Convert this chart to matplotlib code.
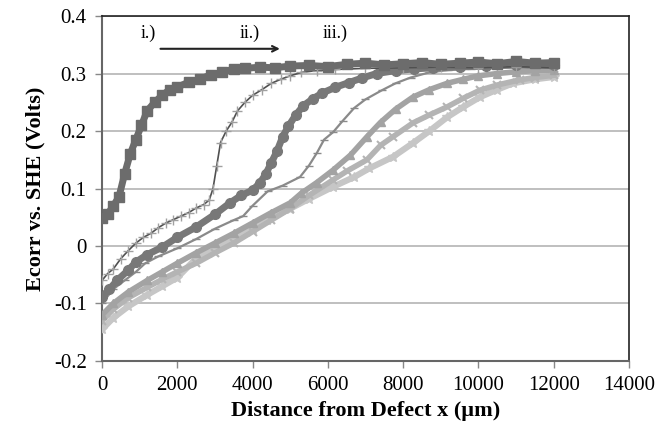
import matplotlib
matplotlib.use("Agg")
import matplotlib.pyplot as plt

# === data (distance in um, Ecorr in V)
s1_x = [0, 150, 300, 450, 600, 750, 900, 1050, 1200, 1400, 1600, 1800, 2000, 2300, 2600, 2900,
        3200, 3500, 3800, 4200, 4600, 5000, 5500, 6000, 6500, 7000, 7500, 8000, 8500, 9000,
        9500, 10000, 10500, 11000, 11500, 12000]
s1_y = [0.048, 0.055, 0.07, 0.085, 0.125, 0.16, 0.185, 0.21, 0.235, 0.25, 0.262, 0.272, 0.276,
        0.285, 0.29, 0.298, 0.302, 0.308, 0.309, 0.311, 0.31, 0.313, 0.314, 0.312, 0.316, 0.318,
        0.315, 0.317, 0.319, 0.316, 0.318, 0.32, 0.317, 0.321, 0.318, 0.319]

s2_x = [0, 150, 300, 500, 700, 900, 1100, 1300, 1500, 1700, 1900, 2100, 2300, 2500, 2700, 2850,
        2950, 3050, 3150, 3300, 3450, 3600, 3800, 4000, 4250, 4500, 4750, 5000, 5300, 5700,
        6200, 7000, 8000, 9000, 10000, 11000, 12000]
s2_y = [-0.06, -0.048, -0.04, -0.022, -0.008, 0.005, 0.015, 0.022, 0.032, 0.04, 0.046, 0.052,
        0.058, 0.066, 0.072, 0.08, 0.1, 0.14, 0.18, 0.2, 0.215, 0.235, 0.25, 0.262, 0.272,
        0.283, 0.29, 0.296, 0.302, 0.305, 0.307, 0.309, 0.31, 0.311, 0.31, 0.312, 0.31]

s3_x = [0, 200, 400, 700, 900, 1200, 1600, 2000, 2500, 3000, 3400, 3700, 4000, 4200, 4350, 4500,
        4650, 4800, 4950, 5150, 5350, 5600, 5850, 6200, 6550, 6900, 7300, 7800, 8300, 8800,
        9500, 10200, 11000, 12000]
s3_y = [-0.088, -0.075, -0.06, -0.042, -0.028, -0.015, -0.002, 0.015, 0.033, 0.055, 0.075,
        0.088, 0.097, 0.11, 0.125, 0.145, 0.165, 0.19, 0.208, 0.228, 0.244, 0.256, 0.266, 0.276,
        0.284, 0.292, 0.3, 0.305, 0.308, 0.31, 0.312, 0.313, 0.315, 0.314]

s4_x = [0, 300, 600, 900, 1150, 1500, 2000, 2500, 3000, 3500, 3750, 4000, 4400, 4800, 5260, 5500,
        5710, 5900, 6140, 6400, 6700, 7000, 7440, 7800, 8200, 8700, 9200, 9800, 10500, 11200,
        12000]
s4_y = [-0.1, -0.075, -0.06, -0.045, -0.03, -0.018, -0.004, 0.012, 0.03, 0.045, 0.052, 0.07,
        0.095, 0.105, 0.12, 0.14, 0.162, 0.185, 0.198, 0.218, 0.24, 0.255, 0.271, 0.283, 0.293,
        0.302, 0.306, 0.308, 0.31, 0.311, 0.31]

s5_x = [0, 300, 700, 1200, 1600, 2000, 2500, 3000, 3500, 4000, 4500, 5000, 5300, 5700, 6140, 6600,
        7040, 7400, 7800, 8260, 8700, 9170, 9600, 10000, 10500, 11000, 11500, 12000]
s5_y = [-0.12, -0.1, -0.08, -0.06, -0.045, -0.03, -0.012, 0.005, 0.022, 0.04, 0.058, 0.075,
        0.092, 0.11, 0.132, 0.158, 0.19, 0.215, 0.238, 0.259, 0.272, 0.283, 0.29, 0.296, 0.3,
        0.303, 0.305, 0.306]

s6_x = [0, 300, 700, 1200, 1600, 2000, 2500, 3000, 3500, 4000, 4500, 5000, 5500, 6140, 6500, 7040,
        7400, 7730, 8260, 8700, 9170, 9600, 10040, 10500, 11100, 11500, 12000]
s6_y = [-0.13, -0.11, -0.09, -0.072, -0.058, -0.045, -0.03, -0.012, 0.005, 0.025, 0.045, 0.065,
        0.088, 0.115, 0.13, 0.15, 0.175, 0.19, 0.214, 0.228, 0.242, 0.257, 0.271, 0.28, 0.289,
        0.293, 0.297]

s7_x = [0, 300, 700, 1200, 1600, 2000, 2600, 3000, 3500, 4000, 4380, 5000, 5500, 6140, 6700, 7100,
        7730, 8260, 8700, 9170, 9600, 10040, 10500, 10920, 11500, 12000]
s7_y = [-0.145, -0.125, -0.105, -0.085, -0.07, -0.055, -0.015, -0.005, 0.012, 0.03, 0.045,
        0.065, 0.082, 0.103, 0.12, 0.135, 0.155, 0.179, 0.2, 0.224, 0.242, 0.259, 0.272, 0.283,
        0.29, 0.294]

plt.rcParams['font.family'] = ['Liberation Serif', 'DejaVu Serif']

fig = plt.figure(figsize=(6.6, 4.26), dpi=100, facecolor="white")
ax = fig.add_axes([0.1545, 0.1526, 0.7985, 0.8098])

# lightest first so the darker ones sit on top
ax.plot(s7_x, s7_y, color="#c6c6c6", lw=4.5, marker="*", ms=7, zorder=3)
ax.plot(s6_x, s6_y, color="#b4b4b4", lw=4, marker="x", ms=6, mew=1.5, zorder=4)
ax.plot(s5_x, s5_y, color="#a3a3a3", lw=4, marker="^", ms=6, zorder=5)
ax.plot(s4_x, s4_y, color="#8a8a8a", lw=1.6, marker="_", ms=6, zorder=6)
ax.plot(s3_x, s3_y, color="#787878", lw=5, marker="o", ms=7, zorder=7)
ax.plot(s2_x, s2_y, color="#505050", lw=1.2, marker="+", ms=7, mec="#a0a0a0", zorder=8)
ax.plot(s1_x, s1_y, color="#6c6c6c", lw=5, marker="s", ms=7, zorder=9)

ax.set_xlim(0, 14000)
ax.set_ylim(-0.2, 0.4)
ax.set_xticks(range(0, 14001, 2000))
ax.set_yticks([-0.2, -0.1, 0, 0.1, 0.2, 0.3, 0.4])
ax.set_yticklabels(["-0.2", "-0.1", "0", "0.1", "0.2", "0.3", "0.4"])
ax.yaxis.grid(True, color="#b4b4b4", lw=1.2)
ax.set_axisbelow(True)

ax.tick_params(direction="out", length=5, width=1, color="#888888", labelsize=15, pad=6)
for side in ["left", "bottom"]:
    ax.spines[side].set_color("#666666")
    ax.spines[side].set_linewidth(1.5)
for side in ["top", "right"]:
    ax.spines[side].set_color("#222222")
    ax.spines[side].set_linewidth(1.2)

ax.set_xlabel("Distance from Defect x (\u00b5m)", fontsize=16, fontweight="bold", labelpad=4)
ax.set_ylabel("Ecorr vs. SHE (Volts)", fontsize=16, fontweight="bold", labelpad=6)

# stage labels and arrow
ax.text(1222, 0.369, "i.)", fontsize=13, ha="center", va="center")
ax.text(3932, 0.37, "ii.)", fontsize=13, ha="center", va="center")
ax.text(6190, 0.37, "iii.)", fontsize=13, ha="center", va="center")
ax.annotate("", xy=(4800, 0.343), xytext=(1480, 0.343),
            arrowprops=dict(arrowstyle="->", color="#222222", lw=1.5))

plt.savefig("out.png", dpi=100, facecolor="white")
